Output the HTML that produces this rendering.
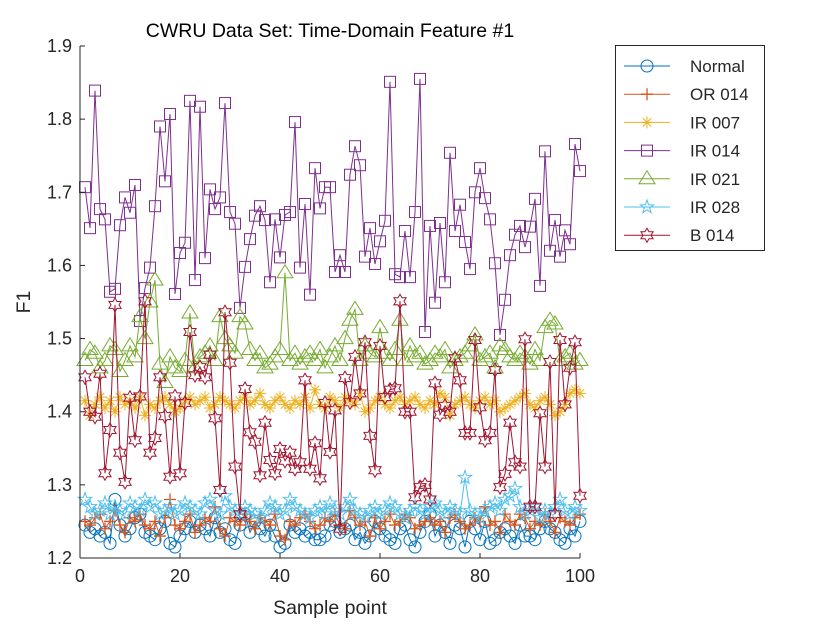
<!DOCTYPE html>
<html><head><meta charset="utf-8"><style>
body{margin:0;background:#fff;}
svg text{font-family:"Liberation Sans",sans-serif;fill:#262626;}
</style></head><body>
<svg id="chart" width="833" height="625" xmlns="http://www.w3.org/2000/svg">
<rect width="833" height="625" fill="#fff"/>
<text x="330" y="37" font-size="19.5" text-anchor="middle" style="fill:#000">CWRU Data Set: Time-Domain Feature #1</text>
<text x="330" y="614" font-size="19.5" text-anchor="middle">Sample point</text>
<text transform="translate(30,302) rotate(-90)" font-size="19.5" text-anchor="middle">F1</text>
<g id="plot"></g>
<g id="axes"></g>
<g id="legend"></g>
</svg>
<script>
const seriesNames=["Normal","OR 014","IR 007","IR 014","IR 021","IR 028","B 014"];
const xTicks=[0,20,40,60,80,100];
const yTicks=[1.2,1.3,1.4,1.5,1.6,1.7,1.8,1.9];
const normal=[1.245,1.235,1.24,1.23,1.235,1.22,1.28,1.245,1.23,1.24,1.255,1.26,1.235,1.23,1.225,1.24,1.25,1.22,1.215,1.23,1.24,1.25,1.235,1.245,1.24,1.23,1.255,1.235,1.24,1.225,1.22,1.245,1.26,1.235,1.25,1.24,1.23,1.245,1.23,1.215,1.22,1.245,1.235,1.24,1.23,1.235,1.225,1.225,1.23,1.245,1.25,1.235,1.24,1.245,1.225,1.235,1.22,1.23,1.25,1.24,1.23,1.225,1.22,1.24,1.245,1.225,1.215,1.235,1.25,1.26,1.23,1.245,1.235,1.22,1.245,1.24,1.215,1.25,1.24,1.225,1.25,1.22,1.225,1.235,1.24,1.23,1.22,1.245,1.23,1.23,1.225,1.24,1.25,1.24,1.235,1.225,1.22,1.24,1.23,1.25];
const or014=[1.25,1.245,1.255,1.26,1.24,1.25,1.265,1.245,1.235,1.255,1.25,1.26,1.245,1.24,1.25,1.23,1.255,1.28,1.245,1.24,1.25,1.26,1.235,1.245,1.255,1.25,1.27,1.24,1.23,1.255,1.25,1.245,1.26,1.25,1.24,1.255,1.25,1.245,1.26,1.23,1.225,1.25,1.245,1.255,1.26,1.25,1.24,1.245,1.255,1.25,1.26,1.245,1.24,1.265,1.255,1.245,1.25,1.23,1.255,1.24,1.25,1.26,1.245,1.25,1.26,1.255,1.24,1.245,1.25,1.255,1.245,1.25,1.235,1.255,1.26,1.25,1.24,1.245,1.255,1.25,1.27,1.245,1.25,1.235,1.26,1.25,1.245,1.26,1.255,1.24,1.25,1.245,1.26,1.25,1.235,1.255,1.25,1.245,1.255,1.26];
const ir007=[1.415,1.395,1.41,1.42,1.405,1.415,1.4,1.42,1.41,1.415,1.405,1.42,1.395,1.41,1.405,1.415,1.42,1.41,1.4,1.405,1.415,1.42,1.41,1.415,1.42,1.405,1.41,1.42,1.415,1.41,1.405,1.415,1.42,1.41,1.415,1.425,1.41,1.405,1.415,1.42,1.41,1.405,1.415,1.41,1.42,1.405,1.43,1.41,1.405,1.42,1.415,1.405,1.42,1.415,1.41,1.425,1.4,1.405,1.415,1.42,1.41,1.405,1.415,1.42,1.41,1.415,1.42,1.41,1.405,1.415,1.41,1.425,1.42,1.395,1.41,1.415,1.42,1.41,1.405,1.415,1.42,1.41,1.415,1.4,1.405,1.41,1.415,1.42,1.425,1.41,1.405,1.415,1.42,1.41,1.395,1.4,1.41,1.425,1.43,1.425];
const ir014=[1.707,1.651,1.839,1.677,1.663,1.564,1.568,1.655,1.693,1.672,1.71,1.524,1.569,1.597,1.681,1.79,1.715,1.807,1.561,1.617,1.631,1.825,1.58,1.817,1.61,1.704,1.677,1.693,1.822,1.673,1.657,1.542,1.598,1.636,1.668,1.681,1.662,1.577,1.663,1.611,1.669,1.673,1.796,1.597,1.684,1.56,1.733,1.678,1.707,1.707,1.591,1.614,1.591,1.724,1.763,1.737,1.612,1.651,1.602,1.633,1.661,1.851,1.588,1.584,1.647,1.584,1.673,1.855,1.509,1.654,1.549,1.658,1.577,1.754,1.647,1.683,1.632,1.595,1.7,1.733,1.692,1.663,1.603,1.505,1.553,1.614,1.642,1.654,1.625,1.653,1.691,1.572,1.756,1.62,1.662,1.612,1.648,1.629,1.766,1.729];
const ir021=[1.47,1.485,1.48,1.46,1.47,1.49,1.485,1.455,1.47,1.49,1.475,1.53,1.5,1.55,1.58,1.465,1.44,1.475,1.46,1.455,1.47,1.535,1.46,1.475,1.48,1.49,1.47,1.53,1.5,1.49,1.48,1.53,1.52,1.485,1.47,1.48,1.46,1.465,1.475,1.485,1.59,1.47,1.48,1.465,1.475,1.48,1.47,1.485,1.46,1.475,1.49,1.47,1.5,1.525,1.54,1.47,1.49,1.48,1.475,1.515,1.48,1.47,1.485,1.525,1.47,1.49,1.475,1.48,1.465,1.47,1.48,1.475,1.485,1.46,1.47,1.475,1.48,1.49,1.505,1.47,1.475,1.48,1.46,1.49,1.485,1.475,1.47,1.48,1.475,1.465,1.485,1.47,1.515,1.525,1.52,1.47,1.475,1.48,1.465,1.47];
const ir028=[1.28,1.27,1.26,1.265,1.275,1.26,1.27,1.265,1.26,1.275,1.27,1.265,1.28,1.27,1.275,1.26,1.265,1.27,1.26,1.265,1.275,1.27,1.265,1.26,1.275,1.28,1.265,1.26,1.285,1.27,1.265,1.26,1.27,1.265,1.26,1.255,1.265,1.275,1.27,1.26,1.265,1.28,1.27,1.265,1.26,1.255,1.265,1.27,1.26,1.275,1.265,1.26,1.27,1.28,1.265,1.26,1.255,1.265,1.27,1.26,1.265,1.275,1.27,1.26,1.255,1.265,1.27,1.265,1.26,1.27,1.275,1.265,1.26,1.27,1.265,1.26,1.31,1.265,1.26,1.255,1.265,1.27,1.275,1.265,1.28,1.285,1.295,1.27,1.26,1.265,1.27,1.255,1.265,1.26,1.27,1.28,1.265,1.26,1.27,1.265];
const b014=[1.447,1.4,1.393,1.452,1.316,1.375,1.546,1.344,1.304,1.419,1.361,1.421,1.551,1.344,1.364,1.447,1.394,1.311,1.421,1.316,1.412,1.509,1.45,1.461,1.447,1.478,1.391,1.293,1.536,1.467,1.325,1.26,1.431,1.372,1.359,1.313,1.385,1.334,1.316,1.349,1.333,1.344,1.322,1.331,1.443,1.322,1.357,1.309,1.412,1.345,1.402,1.24,1.446,1.413,1.475,1.425,1.495,1.367,1.32,1.49,1.42,1.43,1.432,1.551,1.4,1.4,1.283,1.297,1.3,1.28,1.439,1.396,1.408,1.4,1.473,1.443,1.371,1.371,1.498,1.406,1.361,1.371,1.457,1.297,1.315,1.385,1.331,1.325,1.499,1.27,1.27,1.398,1.325,1.468,1.26,1.498,1.41,1.46,1.495,1.285];

const L=80,R=580,T=46,B=558;
const xs=v=>L+(v-0)/(100-0)*(R-L);
const ys=v=>B-(v-1.2)/(1.9-1.2)*(B-T);
const NS="http://www.w3.org/2000/svg";
function mk(tag,attrs,parent){const e=document.createElementNS(NS,tag);for(const k in attrs)e.setAttribute(k,attrs[k]);parent.appendChild(e);return e;}

function starPts(cx,cy,n,ro,ri){let p=[];for(let i=0;i<2*n;i++){const a=-Math.PI/2+i*Math.PI/n;const r=i%2?ri:ro;p.push((cx+r*Math.cos(a)).toFixed(1)+","+(cy+r*Math.sin(a)).toFixed(1));}return p.join(" ");}
function marker(type,x,y,color,g){
  let e;
  if(type==="o"){e=mk("circle",{cx:x,cy:y,r:6,fill:"none",stroke:color,"stroke-width":1},g);}
  else if(type==="+"){e=mk("path",{d:`M${x-6},${y}H${x+6}M${x},${y-6}V${y+6}`,stroke:color,"stroke-width":1.3,fill:"none"},g);}
  else if(type==="*"){let d="";for(let i=0;i<4;i++){const a=i*Math.PI/4;d+=`M${x-6*Math.cos(a)},${y-6*Math.sin(a)}L${x+6*Math.cos(a)},${y+6*Math.sin(a)}`;}e=mk("path",{d:d,stroke:color,"stroke-width":1,fill:"none"},g);}
  else if(type==="s"){e=mk("rect",{x:x-5.5,y:y-5.5,width:11,height:11,fill:"none",stroke:color,"stroke-width":1},g);}
  else if(type==="^"){e=mk("polygon",{points:`${x},${y-8} ${x+8},${y+5} ${x-8},${y+5}`,fill:"none",stroke:color,"stroke-width":1},g);}
  else if(type==="p"){e=mk("polygon",{points:starPts(x,y,5,7,2.8),fill:"none",stroke:color,"stroke-width":1},g);}
  else {e=mk("polygon",{points:starPts(x,y,6,7,4),fill:"none",stroke:color,"stroke-width":1},g);}
  return e;
}

const plot=document.getElementById("plot");
const series=[normal,or014,ir007,ir014,ir021,ir028,b014];
const colors=["#0072BD","#D95319","#EDB120","#7E2F8E","#77AC30","#4DBEEE","#A2142F"];
const types=["o","+","*","s","^","p","h"];
const ids=["normal","or-014","ir-007","ir-014","ir-021","ir-028","b-014"];
series.forEach((vals,si)=>{
  const g=mk("g",{},plot);
  
  
  const d=vals.map((v,i)=>(i?"L":"M")+xs(i+1).toFixed(1)+","+ys(v).toFixed(1)).join("");
  const line=mk("path",{d:d,fill:"none",stroke:colors[si],"stroke-width":1},g);
  
  
  vals.forEach((v,i)=>{
    const m=marker(types[si],xs(i+1),ys(v),colors[si],g);
    
    
  });
});

const axes=document.getElementById("axes");
const xa=mk("path",{d:`M${L},${B}H${R}`,stroke:"#262626","stroke-width":1,fill:"none"},axes);


const ya=mk("path",{d:`M${L},${B}V${T}`,stroke:"#262626","stroke-width":1,fill:"none"},axes);


xTicks.forEach(t=>{
  const x=xs(t);
  mk("path",{d:`M${x},${B}V${B-5}`,stroke:"#262626","stroke-width":1},axes);
  const tx=mk("text",{x:x,y:B+24,"font-size":18,"text-anchor":"middle"},axes);
  tx.textContent=String(t);
  
  
});
yTicks.forEach(t=>{
  const y=ys(t);
  mk("path",{d:`M${L},${y}H${L+5}`,stroke:"#262626","stroke-width":1},axes);
  const tx=mk("text",{x:L-8,y:y+6,"font-size":18,"text-anchor":"end"},axes);
  tx.textContent=t.toFixed(1);
  
  
});

const lg=document.getElementById("legend");
mk("rect",{x:615.5,y:45.5,width:149,height:205,fill:"#fff",stroke:"#262626","stroke-width":1},lg);
seriesNames.forEach((n,i)=>{
  const y=66+i*28.2;
  const g=mk("g",{},lg);
  
  
  mk("path",{d:`M624,${y}H670`,stroke:colors[i],"stroke-width":1},g);
  marker(types[i],647,y,colors[i],g);
  const t=mk("text",{x:690,y:y+6,"font-size":17},g);
  t.textContent=n;
  
  
});
</script>
</body></html>
